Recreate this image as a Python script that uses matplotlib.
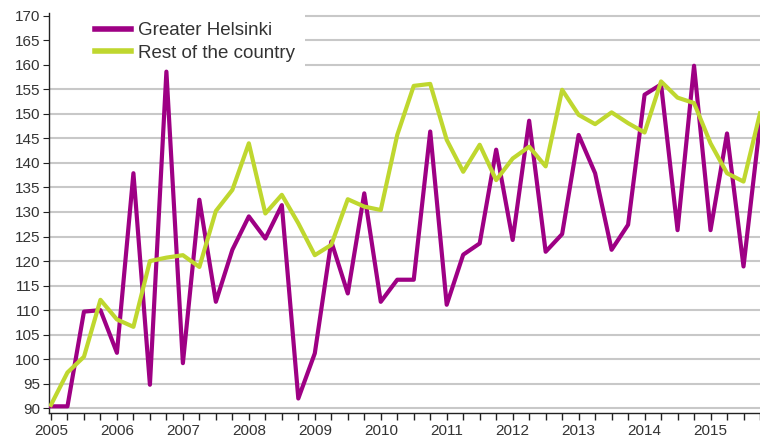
import numpy as np
import matplotlib.pyplot as plt
from matplotlib.patches import Rectangle

plt.rcParams['font.family'] = ['Liberation Sans', 'DejaVu Sans']

# quarterly index, 2005Q1 .. 2015Q4
years = list(range(2005, 2016))
helsinki = [90.4, 90.4, 109.7, 110.0, 101.3, 137.9, 94.8, 158.6,
            99.2, 132.5, 111.7, 122.3, 129.1, 124.6, 131.4, 92.0,
            101.2, 124.0, 113.4, 133.8, 111.7, 116.2, 116.2, 146.4,
            111.1, 121.3, 123.6, 142.7, 124.3, 148.6, 121.9, 125.5,
            145.7, 137.9, 122.3, 127.4, 153.9, 156.0, 126.3, 159.8,
            126.3, 146.0, 118.9, 148.0]
rest = [90.7, 97.3, 100.5, 112.1, 108.1, 106.6, 120.0, 120.7,
        121.2, 118.8, 130.2, 134.5, 144.0, 129.7, 133.5, 127.7,
        121.2, 123.3, 132.6, 131.1, 130.4, 145.7, 155.7, 156.1,
        144.7, 138.2, 143.7, 136.5, 140.9, 143.3, 139.3, 154.9,
        149.8, 147.9, 150.3, 148.1, 146.2, 156.6, 153.3, 152.2,
        144.0, 137.9, 136.2, 150.1]

purple = '#9e0084'
green = '#bfd72f'

fig = plt.figure(figsize=(7.6, 4.43), dpi=100)
ax = fig.add_axes([49 / 760, 1 - 413.3 / 443, 1 - 49 / 760, (413.3 - 13) / 443])

x = np.arange(len(helsinki))
ax.plot(x, helsinki, color=purple, lw=3, label='Greater Helsinki', zorder=3,
        solid_joinstyle='round')
ax.plot(x, rest, color=green, lw=3, label='Rest of the country', zorder=3,
        solid_joinstyle='round')

ax.set_xlim(-0.12, 42.97)
ax.set_ylim(88.98, 170.55)

ax.set_yticks(np.arange(90, 171, 5))
ax.set_xticks(np.arange(0, len(helsinki), 4))
ax.set_xticklabels([str(y) for y in years])
ax.set_xticks(np.arange(0, len(helsinki)), minor=True)

ax.grid(axis='y', color='#c8c8c8', lw=1.5)
ax.set_axisbelow(True)

for side in ['top', 'right']:
    ax.spines[side].set_visible(False)
for side in ['left', 'bottom']:
    ax.spines[side].set_color('#222222')
    ax.spines[side].set_linewidth(1)

ax.tick_params(axis='both', which='both', direction='out', color='#222222',
               labelcolor='#333333', labelsize=11)
ax.tick_params(axis='y', length=4, pad=2)
ax.tick_params(axis='x', which='both', length=5, width=1, pad=3)

# white area behind the legend
ax.add_patch(Rectangle((0, 0.845), 0.36, 0.16, transform=ax.transAxes,
                       facecolor='white', edgecolor='none', zorder=1,
                       clip_on=False))

leg = fig.legend(loc='upper left', bbox_to_anchor=(95 / 760, 1 - 22 / 443),
                 frameon=False, fontsize=13.5, handlelength=1.9,
                 handletextpad=0.38, labelspacing=0.28, borderpad=0,
                 borderaxespad=0)
for t in leg.get_texts():
    t.set_color('#333333')
for h in leg.legend_handles:
    h.set_linewidth(4)

fig.savefig('out.png', dpi=100)
